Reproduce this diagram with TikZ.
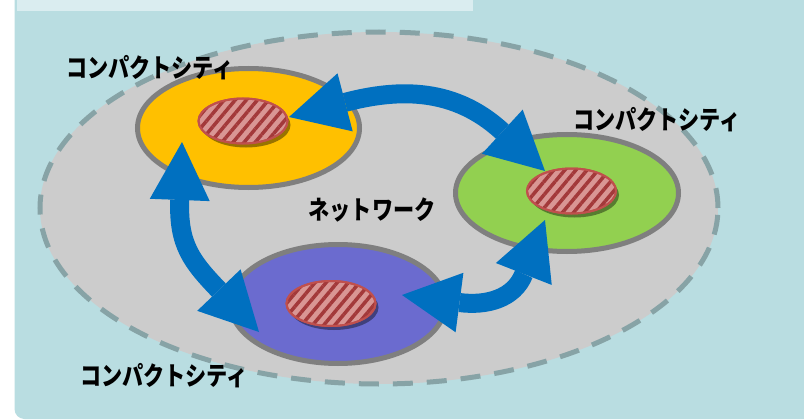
\documentclass[tikz,border=0pt]{standalone}
\usepackage{fontspec}
\newfontfamily\jp{Noto Sans CJK JP}
\usetikzlibrary{arrows.meta,shapes.geometric,patterns.meta,shadows}
\definecolor{panel}{HTML}{B9DDE1}
\definecolor{topbox}{HTML}{DAEDF0}
\definecolor{netgray}{HTML}{CCCCCC}
\definecolor{dashc}{HTML}{87A3A6}
\definecolor{outline}{HTML}{7F7F7F}
\definecolor{cyellow}{HTML}{FFC000}
\definecolor{cgreen}{HTML}{92D050}
\definecolor{cpurple}{HTML}{6B6BCF}
\definecolor{arrowblue}{HTML}{0070C0}
\definecolor{hatchpink}{HTML}{D99694}
\definecolor{stripe}{HTML}{A3393A}
\definecolor{hatchborder}{HTML}{C0504D}
\newcommand{\jptext}[1]{\scalebox{0.9}[1.1]{\jp\bfseries\fontsize{23.5pt}{24pt}\selectfont #1}}
\begin{document}
\begin{tikzpicture}[x=1pt,y=-1pt,
  netw/.style={ellipse, draw=dashc, line width=5pt, dash pattern=on 20pt off 14pt, fill=netgray, inner sep=0},
  city/.style={ellipse, draw=outline, line width=5pt, inner sep=0},
  hatch/.style={ellipse, inner sep=0, minimum width=89pt, minimum height=45pt,
    drop shadow={shadow xshift=3pt, shadow yshift=-4pt, opacity=0.4, fill=black},
    fill=hatchpink, draw=hatchborder, line width=2pt,
    postaction={pattern={Lines[angle=50,distance=8.5pt,line width=3.5pt]}, pattern color=stripe},
    postaction={draw=hatchborder, line width=2pt}},
  bigarrow/.style={draw=arrowblue, line width=19pt,
    {Triangle[length=58pt,width=60pt,line width=0pt]}-{Triangle[length=58pt,width=60pt,line width=0pt]}},
  lbl/.style={inner sep=0}
]
\useasboundingbox (0,0) rectangle (804,420);
\clip (0,0) rectangle (804,420);
\fill[white] (0,0) rectangle (804,420);
\fill[panel, rounded corners=10pt] (14.5,-20) rectangle (840,419);
\fill[topbox] (17,-5) rectangle (473,11);

\node[netw, minimum width=678pt, minimum height=352pt] (net) at (379,208) {};

\node[city, fill=cyellow, minimum width=222pt, minimum height=119pt] (cy) at (248.5,128) {};
\node[city, fill=cgreen, minimum width=223pt, minimum height=117pt] (cg) at (567,193) {};
\node[city, fill=cpurple, minimum width=215pt, minimum height=119pt] (cp) at (338,304) {};

\coordinate (a1) at (289,117);
\coordinate (b1) at (545,171);
\coordinate (a2) at (182,142);
\coordinate (b2) at (259,332);
\coordinate (a3) at (402,295);
\coordinate (b3) at (545,220);

\draw[bigarrow] (a1) .. controls (400,88) and (455,88) .. (b1);
\draw[bigarrow] (a2) .. controls (178,245) and (192,262) .. (b2);
\draw[bigarrow] (a3) .. controls (486,306) and (514,299) .. (b3);

\node[hatch] (hy) at (243,121) {};
\node[hatch] (hg) at (571.5,191) {};
\node[hatch] (hp) at (331,303.5) {};

\node[lbl] (l1) at (150,68) {\jptext{コンパクトシティ}};
\node[lbl] (l2) at (657,120) {\jptext{コンパクトシティ}};
\node[lbl] (l3) at (164,376) {\jptext{コンパクトシティ}};
\node[lbl] (ln) at (372,210) {\jptext{ネットワーク}};
\end{tikzpicture}
\end{document}
